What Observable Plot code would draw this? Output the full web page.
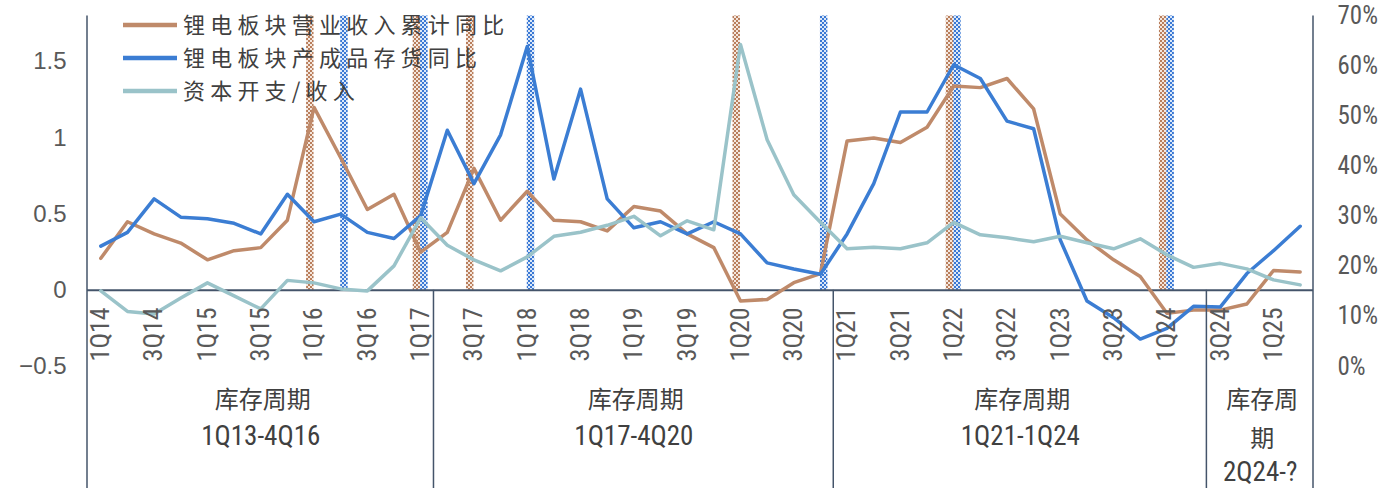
<!DOCTYPE html>
<html>
<head>
<meta charset="utf-8">
<script src="https://cdn.jsdelivr.net/npm/d3@7"></script>
<script src="https://cdn.jsdelivr.net/npm/@observablehq/plot@0.6"></script>
<style>
  html, body { margin: 0; padding: 0; background: #fff; }
  #chart svg { display: block; }
</style>
</head>
<body>
<div id="chart"></div>
<script>
// ---------- data ----------
const quarters = [
  "1Q14","2Q14","3Q14","4Q14","1Q15","2Q15","3Q15","4Q15",
  "1Q16","2Q16","3Q16","4Q16","1Q17","2Q17","3Q17","4Q17",
  "1Q18","2Q18","3Q18","4Q18","1Q19","2Q19","3Q19","4Q19",
  "1Q20","2Q20","3Q20","4Q20","1Q21","2Q21","3Q21","4Q21",
  "1Q22","2Q22","3Q22","4Q22","1Q23","2Q23","3Q23","4Q23",
  "1Q24","2Q24","3Q24","4Q24","1Q25","2Q25"
];
// 锂电板块营业收入累计同比 (left axis)
const revenueYoY = [
  0.21, 0.45, 0.37, 0.31, 0.20, 0.26, 0.28, 0.46,
  1.20, 0.87, 0.53, 0.63, 0.25, 0.38, 0.80, 0.46,
  0.65, 0.46, 0.45, 0.39, 0.55, 0.52, 0.37, 0.28,
  -0.07, -0.06, 0.05, 0.11, 0.98, 1.00, 0.97, 1.07,
  1.34, 1.33, 1.39, 1.19, 0.50, 0.33, 0.20, 0.09,
  -0.15, -0.13, -0.13, -0.09, 0.13, 0.12
];
// 锂电板块产成品存货同比 (left axis)
const inventoryYoY = [
  0.29, 0.38, 0.60, 0.48, 0.47, 0.44, 0.37, 0.63,
  0.45, 0.50, 0.38, 0.34, 0.49, 1.05, 0.70, 1.02,
  1.60, 0.73, 1.32, 0.60, 0.41, 0.45, 0.37, 0.45,
  0.37, 0.18, 0.14, 0.105, 0.37, 0.70, 1.17, 1.17,
  1.48, 1.39, 1.11, 1.06, 0.33, -0.07, -0.18, -0.32,
  -0.25, -0.105, -0.11, 0.11, 0.26, 0.42
];
// 资本开支/收入 (right axis, %)
const capexRatio = [
  15.1, 11.0, 10.5, 13.7, 16.7, 14.1, 11.5, 17.2,
  16.7, 15.5, 15.1, 20.1, 29.7, 24.2, 21.3, 19.1,
  21.9, 26.0, 26.8, 28.2, 30.0, 26.1, 29.1, 27.3,
  64.3, 45.3, 34.3, 28.8, 23.5, 23.8, 23.5, 24.7,
  28.8, 26.3, 25.7, 24.9, 26.0, 24.7, 23.5, 25.5,
  22.3, 19.8, 20.6, 19.5, 17.3, 16.3
];
// quarters flagged with hatched columns
const revenueFlags = ["1Q16","1Q17","3Q17","1Q20","1Q22","1Q24"];
const inventoryFlags = ["2Q16","1Q17","1Q18","4Q20","1Q22","1Q24"];

const leftTicks = [-0.5, 0, 0.5, 1, 1.5];
const rightTicks = [0, 10, 20, 30, 40, 50, 60, 70];
const labelledQuarters = quarters.filter((q, i) => i % 2 === 0);

const cycleNames = ["库存周期", "库存周期", "库存周期", "库存周\n期"];
const cycleRanges = ["1Q13-4Q16", "1Q17-4Q20", "1Q21-1Q24", "2Q24-?"];
const cycleFrom = ["1Q14", "2Q17", "1Q21", "3Q24"];
const cycleTo = ["1Q17", "4Q20", "2Q24", "2Q25"];

const seriesNames = ["锂电板块营业收入累计同比", "锂电板块产成品存货同比", "资本开支/收入"];
const seriesColors = ["#BF8A6A", "#3B7DD3", "#9AC3C9"];

// ---------- scales helpers ----------
const LEFT_MIN = -0.5, LEFT_MAX = 1.8, RIGHT_MAX = 70;
const toLeft = p => LEFT_MIN + p / RIGHT_MAX * (LEFT_MAX - LEFT_MIN);
const fromLeft = v => Math.round((v - LEFT_MIN) / (LEFT_MAX - LEFT_MIN) * RIGHT_MAX);
const idx = q => quarters.indexOf(q);
const BAR_W = 0.28;

const rows = quarters.map((q, i) => ({
  i, q, rev: revenueYoY[i], inv: inventoryYoY[i], capex: toLeft(capexRatio[i])
}));
const cycles = cycleNames.map((name, k) => ({
  name, range: cycleRanges[k],
  center: (idx(cycleFrom[k]) + idx(cycleTo[k])) / 2,
  lines: name.split("\n").length
}));

const textGray = "#595959";
const axisColor = "#44546A";
const narrow = "'Liberation Sans Narrow', 'Roboto Condensed', 'Liberation Sans', sans-serif";
const cjk = "'Noto Sans CJK SC', sans-serif";

const chart = Plot.plot({
  width: 1395,
  height: 488,
  marginLeft: 87,
  marginRight: 82,
  marginTop: 15.5,
  marginBottom: 122,
  style: { background: "#fff", overflow: "visible" },
  x: { type: "linear", domain: [-0.5, quarters.length - 0.5], axis: null },
  y: { domain: [LEFT_MIN, LEFT_MAX], axis: null },
  marks: [
    Plot.rect(revenueFlags, {
      x1: q => idx(q) - BAR_W, x2: q => idx(q), y1: 0, y2: LEFT_MAX,
      fill: "url(#hatchBrown)"
    }),
    Plot.rect(inventoryFlags, {
      x1: q => idx(q), x2: q => idx(q) + BAR_W, y1: 0, y2: LEFT_MAX,
      fill: "url(#hatchBlue)"
    }),
    Plot.ruleY([0], { stroke: axisColor, strokeWidth: 2 }),
    Plot.line(rows, { x: "i", y: "rev", stroke: seriesColors[0], strokeWidth: 3.5, strokeLinejoin: "round" }),
    Plot.line(rows, { x: "i", y: "inv", stroke: seriesColors[1], strokeWidth: 3.5, strokeLinejoin: "round" }),
    Plot.line(rows, { x: "i", y: "capex", stroke: seriesColors[2], strokeWidth: 3.5, strokeLinejoin: "round" }),
    // category tick labels
    Plot.text(labelledQuarters, {
      x: q => idx(q), y: 0, text: d => d, rotate: -90, textAnchor: "end", lineAnchor: "middle",
      dy: 17, fontSize: 26, fontFamily: narrow, fill: textGray
    }),
    // cycle group labels
    Plot.text(cycles, {
      x: "center", text: "name", frameAnchor: "bottom", lineAnchor: "top", dy: 13, dx: 2,
      lineHeight: 1.65, fontSize: 24, fontFamily: cjk, fill: "#404040", letterSpacing: 4.5
    }),
    Plot.text(cycles.filter(c => c.lines === 1), {
      x: "center", text: "range", frameAnchor: "bottom", lineAnchor: "middle", dy: 70,
      fontSize: 27, fontFamily: narrow, fill: "#404040", letterSpacing: 0.5
    }),
    Plot.text(cycles.filter(c => c.lines === 2), {
      x: "center", text: "range", frameAnchor: "bottom", lineAnchor: "middle", dy: 106,
      fontSize: 27, fontFamily: narrow, fill: "#404040", letterSpacing: 0.5
    }),
    Plot.axisY(leftTicks, {
      anchor: "left", tickSize: 0, tickPadding: 21, label: null,
      tickFormat: d => (d < 0 ? "\u2212" : "") + Math.abs(d),
      fontSize: 24, fontFamily: "'Liberation Sans', sans-serif", color: textGray, letterSpacing: 3
    }),
    Plot.axisY(rightTicks.map(toLeft), {
      anchor: "right", tickSize: 0, tickPadding: 24, label: null,
      tickFormat: d => fromLeft(d) + "%",
      fontSize: 25, fontFamily: narrow, color: textGray
    })
  ]
});

// patterns for hatched columns
const svg = d3.select(chart);
const defs = svg.insert("defs", ":first-child");
function checker(id, color, light) {
  const p = defs.append("pattern").attr("id", id)
    .attr("width", 4).attr("height", 4).attr("patternUnits", "userSpaceOnUse");
  p.append("rect").attr("width", 4).attr("height", 4).attr("fill", light);
  p.append("rect").attr("width", 2).attr("height", 2).attr("fill", color);
  p.append("rect").attr("x", 2).attr("y", 2).attr("width", 2).attr("height", 2).attr("fill", color);
}
checker("hatchBrown", "#B97E5C", "#F4E7DE");
checker("hatchBlue", "#3A78D4", "#DCE8F8");

// axis lines and category separators, positioned with the plot's scales
const xs = chart.scale("x"), ys = chart.scale("y");
const yTop = ys.apply(LEFT_MAX), yZero = ys.apply(0), yBottom = 488;
const sep = svg.append("g").attr("stroke", axisColor).attr("stroke-width", 1.5);
sep.append("line").attr("x1", xs.apply(-0.5)).attr("x2", xs.apply(-0.5)).attr("y1", yTop).attr("y2", yBottom);
sep.append("line").attr("x1", xs.apply(quarters.length - 0.5)).attr("x2", xs.apply(quarters.length - 0.5)).attr("y1", yTop).attr("y2", yBottom);
cycleFrom.slice(1).forEach(q => {
  const x = xs.apply(idx(q) - 0.5);
  sep.append("line").attr("x1", x).attr("x2", x).attr("y1", yZero).attr("y2", yBottom);
});

// legend (inside the plot area, top-left)
const lg = svg.append("g").attr("text-anchor", "start");
seriesNames.forEach((name, k) => {
  const y = 25 + k * 33;
  lg.append("line").attr("x1", 123).attr("x2", 177).attr("y1", y).attr("y2", y)
    .attr("stroke", seriesColors[k]).attr("stroke-width", 4.5);
  lg.append("text").attr("x", 183).attr("y", y).attr("dy", "0.35em")
    .attr("text-anchor", "start")
    .attr("font-family", "Noto Sans CJK SC, sans-serif").attr("font-size", 22)
    .attr("letter-spacing", "5.2px").attr("fill", "#404040").text(name);
});

document.getElementById("chart").appendChild(chart);
</script>
</body>
</html>
